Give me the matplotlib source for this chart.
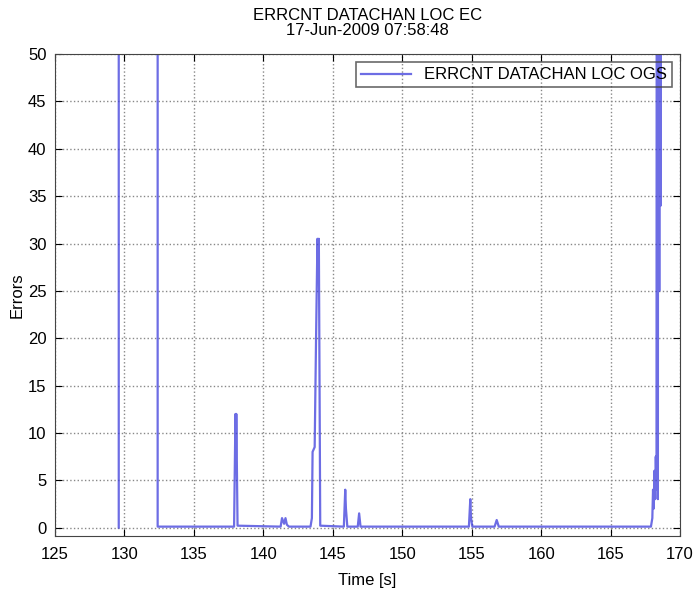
import matplotlib
matplotlib.use("Agg")
import matplotlib.pyplot as plt

plt.rcParams['font.family'] = ['Liberation Sans', 'DejaVu Sans']

### DATA ###
# time stamps [s] and error counts
timeList = [129.6, 129.6, 132.4, 132.4, 132.6,
            137.9, 138.0, 138.03, 138.06, 138.15,
            141.25, 141.35, 141.5, 141.6, 141.7, 141.85,
            143.4, 143.5, 143.55, 143.7, 143.8, 143.9, 143.95, 144.0, 144.1,
            145.8, 145.9, 145.95, 146.05, 146.8, 146.9, 147.0,
            154.8, 154.9, 154.95, 155.05, 156.65, 156.8, 156.95,
            167.9, 168.0, 168.05, 168.1, 168.15, 168.2, 168.25, 168.3, 168.35,
            168.4, 168.45, 168.5, 168.55, 168.6, 168.65, 168.7]
errorList = [0, 200, 200, 0.1, 0.1,
             0.1, 12, 7, 12, 0.2,
             0.1, 1.0, 0.4, 1.0, 0.3, 0.1,
             0.1, 1.0, 8, 8.5, 20, 30.5, 26, 30.5, 0.2,
             0.1, 4, 2, 0.1, 0.1, 1.5, 0.1,
             0.1, 3, 1, 0.1, 0.1, 0.8, 0.1,
             0.1, 1, 4, 2, 6, 3, 7.5, 4, 200,
             3, 200, 25, 200, 34, 200, 200]
legendLabel = "ERRCNT DATACHAN LOC OGS"
titleText = "ERRCNT DATACHAN LOC EC\n17-Jun-2009 07:58:48"

fig = plt.figure(figsize=(6.94, 5.95), dpi=100)
ax = fig.add_axes([0.079, 0.099, 0.901, 0.81])

ax.plot(timeList, errorList, color='#3c3cdc', alpha=0.75, linewidth=1.6, label=legendLabel)

ax.set_xlim(125, 170)
ax.set_ylim(-0.9, 50)
ax.set_xticks(range(125, 171, 5))
ax.set_yticks(range(0, 51, 5))
ax.tick_params(direction='in', top=True, right=True, labelsize=12, length=5)
ax.tick_params(axis='x', pad=8)
ax.tick_params(axis='y', pad=6)
ax.grid(True, linestyle=':', color='#888888', linewidth=1.0)
for spine in ax.spines.values():
    spine.set_color('#444444')

ax.set_title(titleText, fontsize=12, pad=14, linespacing=1.0)
ax.set_xlabel("Time [s]", fontsize=12, labelpad=8)
ax.set_ylabel("Errors", fontsize=12, labelpad=2)

leg = ax.legend(loc='upper right', fontsize=12, frameon=True, fancybox=False,
                facecolor='none', edgecolor='#444444', borderaxespad=0.5,
                handlelength=3.0, borderpad=0.3)
leg.get_frame().set_linewidth(1.2)

fig.savefig("out.png", dpi=100)
